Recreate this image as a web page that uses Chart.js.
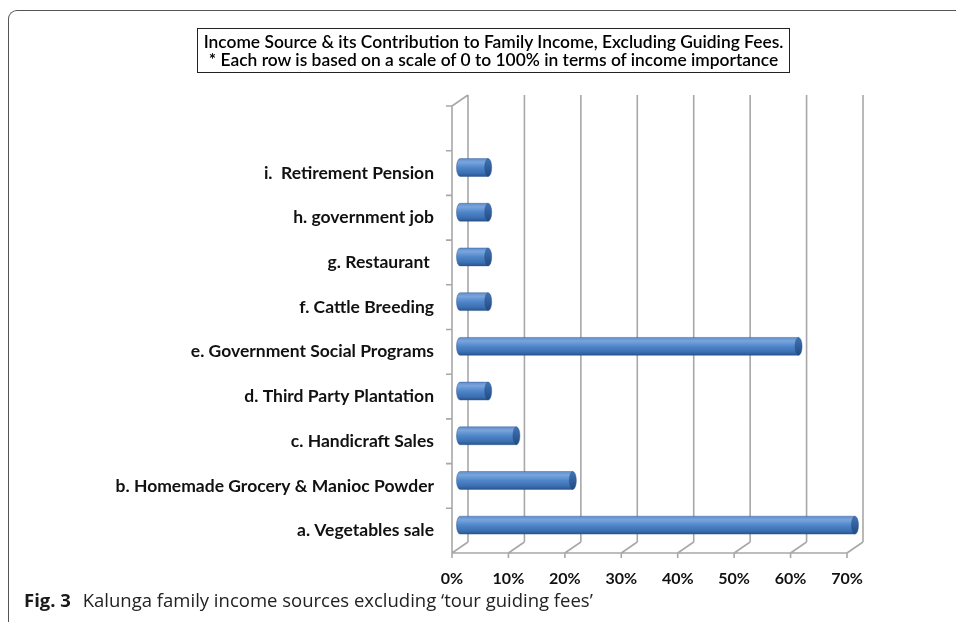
<!DOCTYPE html>
<html>
<head>
<meta charset="utf-8">
<script src="https://cdn.jsdelivr.net/npm/chart.js@4/dist/chart.umd.min.js"></script>
<style>
  html, body { margin: 0; padding: 0; background: #fff; }
  #wrap { position: relative; width: 956px; height: 622px; overflow: hidden; background: #fff; }
  #frame { position: absolute; left: 8px; top: 10px; width: 960px; height: 640px;
           border-left: 1.5px solid #555; border-top: 1.5px solid #555; border-top-left-radius: 9px; }
  #c { position: absolute; left: 0; top: 0; }
  #title { position: absolute; left: 197px; top: 28px; width: 591px;
           border: 1.6px solid #222; font-family: Lato, "Open Sans", sans-serif; font-size: 17.4px; font-weight: 600;
           line-height: 18px; color: #000; text-align: center; padding-top: 4px; height: 39px; box-sizing: content-box; }
  #caption { position: absolute; left: 24px; top: 587px; font-family: "Open Sans", sans-serif;
             font-size: 18.5px; color: #222; letter-spacing: 0px; white-space: nowrap; }
  #caption b { color: #1a1a1a; margin-right: 7px; }
</style>
</head>
<body>
<div id="wrap">
  <div id="frame"></div>
  <canvas id="c" width="956" height="622"></canvas>
  <div id="title">Income Source &amp; its Contribution to Family Income, Excluding Guiding Fees.<br>* Each row is based on a scale of 0 to 100% in terms of income importance</div>
  <div id="caption"><b>Fig. 3</b> Kalunga family income sources excluding ‘tour guiding fees’</div>
</div>
<script>
// ---- data ----
const categories = [
  'a. Vegetables sale',
  'b. Homemade Grocery & Manioc Powder',
  'c. Handicraft Sales',
  'd. Third Party Plantation',
  'e. Government Social Programs',
  'f. Cattle Breeding',
  'g. Restaurant ',
  'h. government job',
  'i.  Retirement Pension',
  ''
];
const incomeShare = [70, 20, 10, 5, 60, 5, 5, 5, 5, null];
const xTicks = [0, 10, 20, 30, 40, 50, 60, 70];

// ---- 3D look helpers ----
const DEPTH_X = 16, DEPTH_Y = -11;
const wallColor = '#a8a8a8';
const labelFont = 'Lato, "Open Sans", sans-serif';

const wallsPlugin = {
  id: 'walls',
  beforeDatasetsDraw(chart) {
    const ctx = chart.ctx;
    const xs = chart.scales.x, ys = chart.scales.y;
    const a = chart.chartArea;
    ctx.save();
    ctx.strokeStyle = wallColor;
    ctx.lineWidth = 1.6;
    ctx.beginPath();
    xTicks.forEach(v => {
      const px = xs.getPixelForValue(v);
      ctx.moveTo(px + DEPTH_X, a.top + DEPTH_Y);
      ctx.lineTo(px + DEPTH_X, a.bottom + DEPTH_Y);
      ctx.moveTo(px, a.bottom);
      ctx.lineTo(px + DEPTH_X, a.bottom + DEPTH_Y);
      ctx.moveTo(px, a.bottom);
      ctx.lineTo(px, a.bottom + 5);
    });
    ctx.moveTo(a.left, a.bottom);
    ctx.lineTo(xs.getPixelForValue(xTicks[xTicks.length - 1]), a.bottom);
    ctx.moveTo(a.left, a.top);
    ctx.lineTo(a.left, a.bottom);
    ctx.moveTo(a.left, a.top);
    ctx.lineTo(a.left + DEPTH_X, a.top + DEPTH_Y);
    const n = categories.length;
    const band = (ys.getPixelForValue(1) - ys.getPixelForValue(0));
    for (let i = 0; i < n; i++) {
      const y = ys.getPixelForValue(i) + band / 2;
      ctx.moveTo(a.left - 6, y);
      ctx.lineTo(a.left, y);
    }
    ctx.moveTo(a.left - 6, a.top);
    ctx.lineTo(a.left, a.top);
    ctx.stroke();
    ctx.restore();
  },
  afterDatasetsDraw(chart) {
    const ctx = chart.ctx;
    const meta = chart.getDatasetMeta(0);
    const dx = DEPTH_X / 2, dy = DEPTH_Y / 2;
    ctx.save();
    meta.data.forEach((el, i) => {
      if (incomeShare[i] == null) return;
      const p = el.getProps(['x', 'y', 'base', 'height'], true);
      const x0 = p.base + dx, x1 = p.x + dx;
      const h = p.height, yc = p.y + dy;
      const top = yc - h / 2, bot = yc + h / 2;
      const rx = 3.5, ry = h / 2;
      const g = ctx.createLinearGradient(0, top, 0, bot);
      g.addColorStop(0, '#5f8fcf');
      g.addColorStop(0.2, '#7aa5dc');
      g.addColorStop(0.5, '#4f86ca');
      g.addColorStop(0.82, '#3b6fb1');
      g.addColorStop(1, '#28558f');
      ctx.beginPath();
      ctx.moveTo(x1, top);
      ctx.lineTo(x0, top);
      ctx.ellipse(x0, yc, rx, ry, 0, -Math.PI / 2, Math.PI / 2, true);
      ctx.lineTo(x1, bot);
      ctx.closePath();
      ctx.fillStyle = g;
      ctx.fill();
      ctx.strokeStyle = 'rgba(40,80,135,0.7)';
      ctx.lineWidth = 0.6;
      ctx.stroke();
      ctx.beginPath();
      ctx.ellipse(x1, yc, rx, ry, 0, 0, Math.PI * 2);
      const g2 = ctx.createLinearGradient(0, top, 0, bot);
      g2.addColorStop(0, '#4274b4');
      g2.addColorStop(1, '#204b84');
      ctx.fillStyle = g2;
      ctx.fill();
      ctx.stroke();
    });
    ctx.restore();
  }
};

new Chart(document.getElementById('c'), {
  type: 'bar',
  data: {
    labels: categories,
    datasets: [{
      data: incomeShare,
      backgroundColor: 'rgba(0,0,0,0)',
      borderWidth: 0,
      barPercentage: 0.8,
      categoryPercentage: 0.5
    }]
  },
  options: {
    indexAxis: 'y',
    responsive: false,
    animation: false,
    devicePixelRatio: 1,
    layout: { padding: { top: 106, right: 109, bottom: 0, left: 0 } },
    plugins: { legend: { display: false }, title: { display: false }, tooltip: { enabled: false } },
    scales: {
      x: {
        type: 'linear', min: 0, max: 70,
        afterFit(s) { s.height = 69; },
        afterBuildTicks(s) { s.ticks = xTicks.map(v => ({ value: v })); },
        grid: { display: false, drawTicks: false },
        border: { display: false },
        ticks: {
          padding: 16,
          color: '#111',
          font: { family: labelFont, size: 16, weight: 'bold' },
          callback: v => v + '%'
        }
      },
      y: {
        type: 'category',
        reverse: true,
        afterFit(s) { s.width = 452; },
        grid: { display: false, drawTicks: false },
        border: { display: false },
        ticks: {
          padding: 18,
          color: '#111',
          autoSkip: false,
          font: { family: labelFont, size: 17.5, weight: 'bold' }
        }
      }
    }
  },
  plugins: [wallsPlugin]
});
</script>
</body>
</html>
